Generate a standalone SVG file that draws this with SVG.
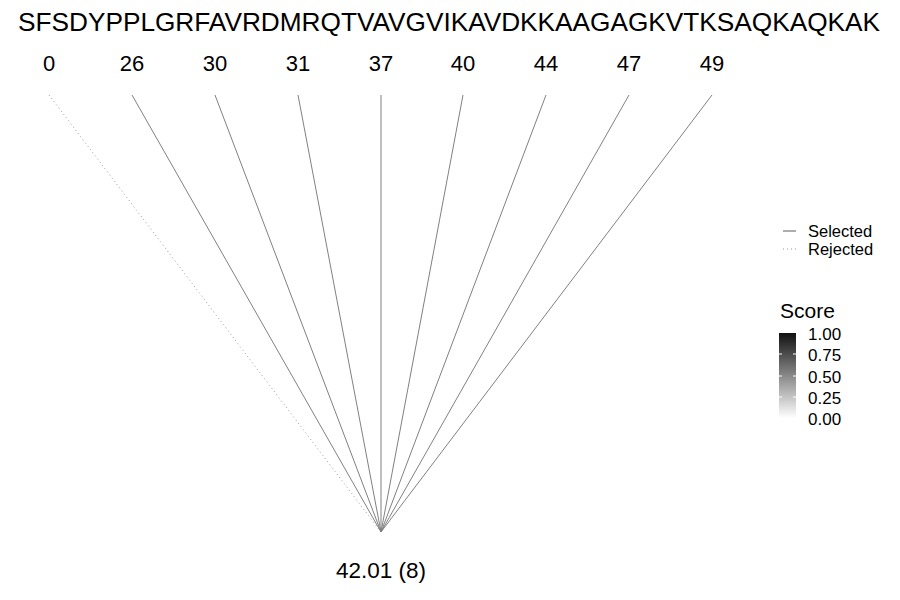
<svg xmlns="http://www.w3.org/2000/svg" width="900" height="600" viewBox="0 0 900 600">
<style>
text{font-family:"Liberation Sans",Arial,sans-serif;fill:#000}
.pos{font-size:22px;text-anchor:middle}
.sel{stroke:#808080;stroke-width:1;fill:none}
.rej{stroke:#9a9a9a;stroke-width:1;fill:none;stroke-dasharray:1 3}
.leg{font-size:16.5px}
.tick{font-size:17px}
</style>
<defs>
<linearGradient id="g" x1="0" y1="0" x2="0" y2="1">
<stop offset="0" stop-color="#111"/>
<stop offset="1" stop-color="#fff"/>
</linearGradient>
</defs>
<rect width="900" height="600" fill="#fff"/>
<text id="sequence" x="449" y="31" font-size="26" text-anchor="middle" textLength="862" lengthAdjust="spacingAndGlyphs">SFSDYPPLGRFAVRDMRQTVAVGVIKAVDKKAAGAGKVTKSAQKAQKAK</text>
<g id="positions">
<g id="p0"><text class="pos" x="49" y="71">0</text></g>
<g id="p26"><text class="pos" x="132" y="71">26</text></g>
<g id="p30"><text class="pos" x="215" y="71">30</text></g>
<g id="p31"><text class="pos" x="298" y="71">31</text></g>
<g id="p37"><text class="pos" x="381" y="71">37</text></g>
<g id="p40"><text class="pos" x="463" y="71">40</text></g>
<g id="p44"><text class="pos" x="546" y="71">44</text></g>
<g id="p47"><text class="pos" x="629" y="71">47</text></g>
<g id="p49"><text class="pos" x="712" y="71">49</text></g>
</g>
<g id="connectors">
<line class="rej" x1="49" y1="95" x2="381" y2="532"/>
<line class="sel" x1="132" y1="95" x2="381" y2="532"/>
<line class="sel" x1="215" y1="95" x2="381" y2="532"/>
<line class="sel" x1="298" y1="95" x2="381" y2="532"/>
<line class="sel" x1="381" y1="95" x2="381" y2="532"/>
<line class="sel" x1="463" y1="95" x2="381" y2="532"/>
<line class="sel" x1="546" y1="95" x2="381" y2="532"/>
<line class="sel" x1="629" y1="95" x2="381" y2="532"/>
<line class="sel" x1="712" y1="95" x2="381" y2="532"/>
</g>
<g id="result"><text x="381" y="578" font-size="22.5" text-anchor="middle">42.01 (8)</text></g>
<g id="legend-lines">
<line x1="783" y1="231" x2="796" y2="231" stroke="#808080" stroke-width="1.3"/>
<text class="leg" x="808" y="237">Selected</text>
<line x1="783" y1="249" x2="796" y2="249" stroke="#9a9a9a" stroke-width="1" stroke-dasharray="1 3"/>
<text class="leg" x="808" y="255">Rejected</text>
</g>
<g id="legend-score">
<text x="780" y="318" font-size="21">Score</text>
<rect x="779" y="333" width="17" height="85" fill="url(#g)"/>
<g stroke="#fff" stroke-width="1">
<line x1="779" y1="354" x2="782" y2="354"/><line x1="793" y1="354" x2="796" y2="354"/>
<line x1="779" y1="376" x2="782" y2="376"/><line x1="793" y1="376" x2="796" y2="376"/>
<line x1="779" y1="397" x2="782" y2="397"/><line x1="793" y1="397" x2="796" y2="397"/>
</g>
<text class="tick" x="808" y="340">1.00</text>
<text class="tick" x="808" y="361">0.75</text>
<text class="tick" x="808" y="383">0.50</text>
<text class="tick" x="808" y="404">0.25</text>
<text class="tick" x="808" y="425">0.00</text>
</g>
</svg>
